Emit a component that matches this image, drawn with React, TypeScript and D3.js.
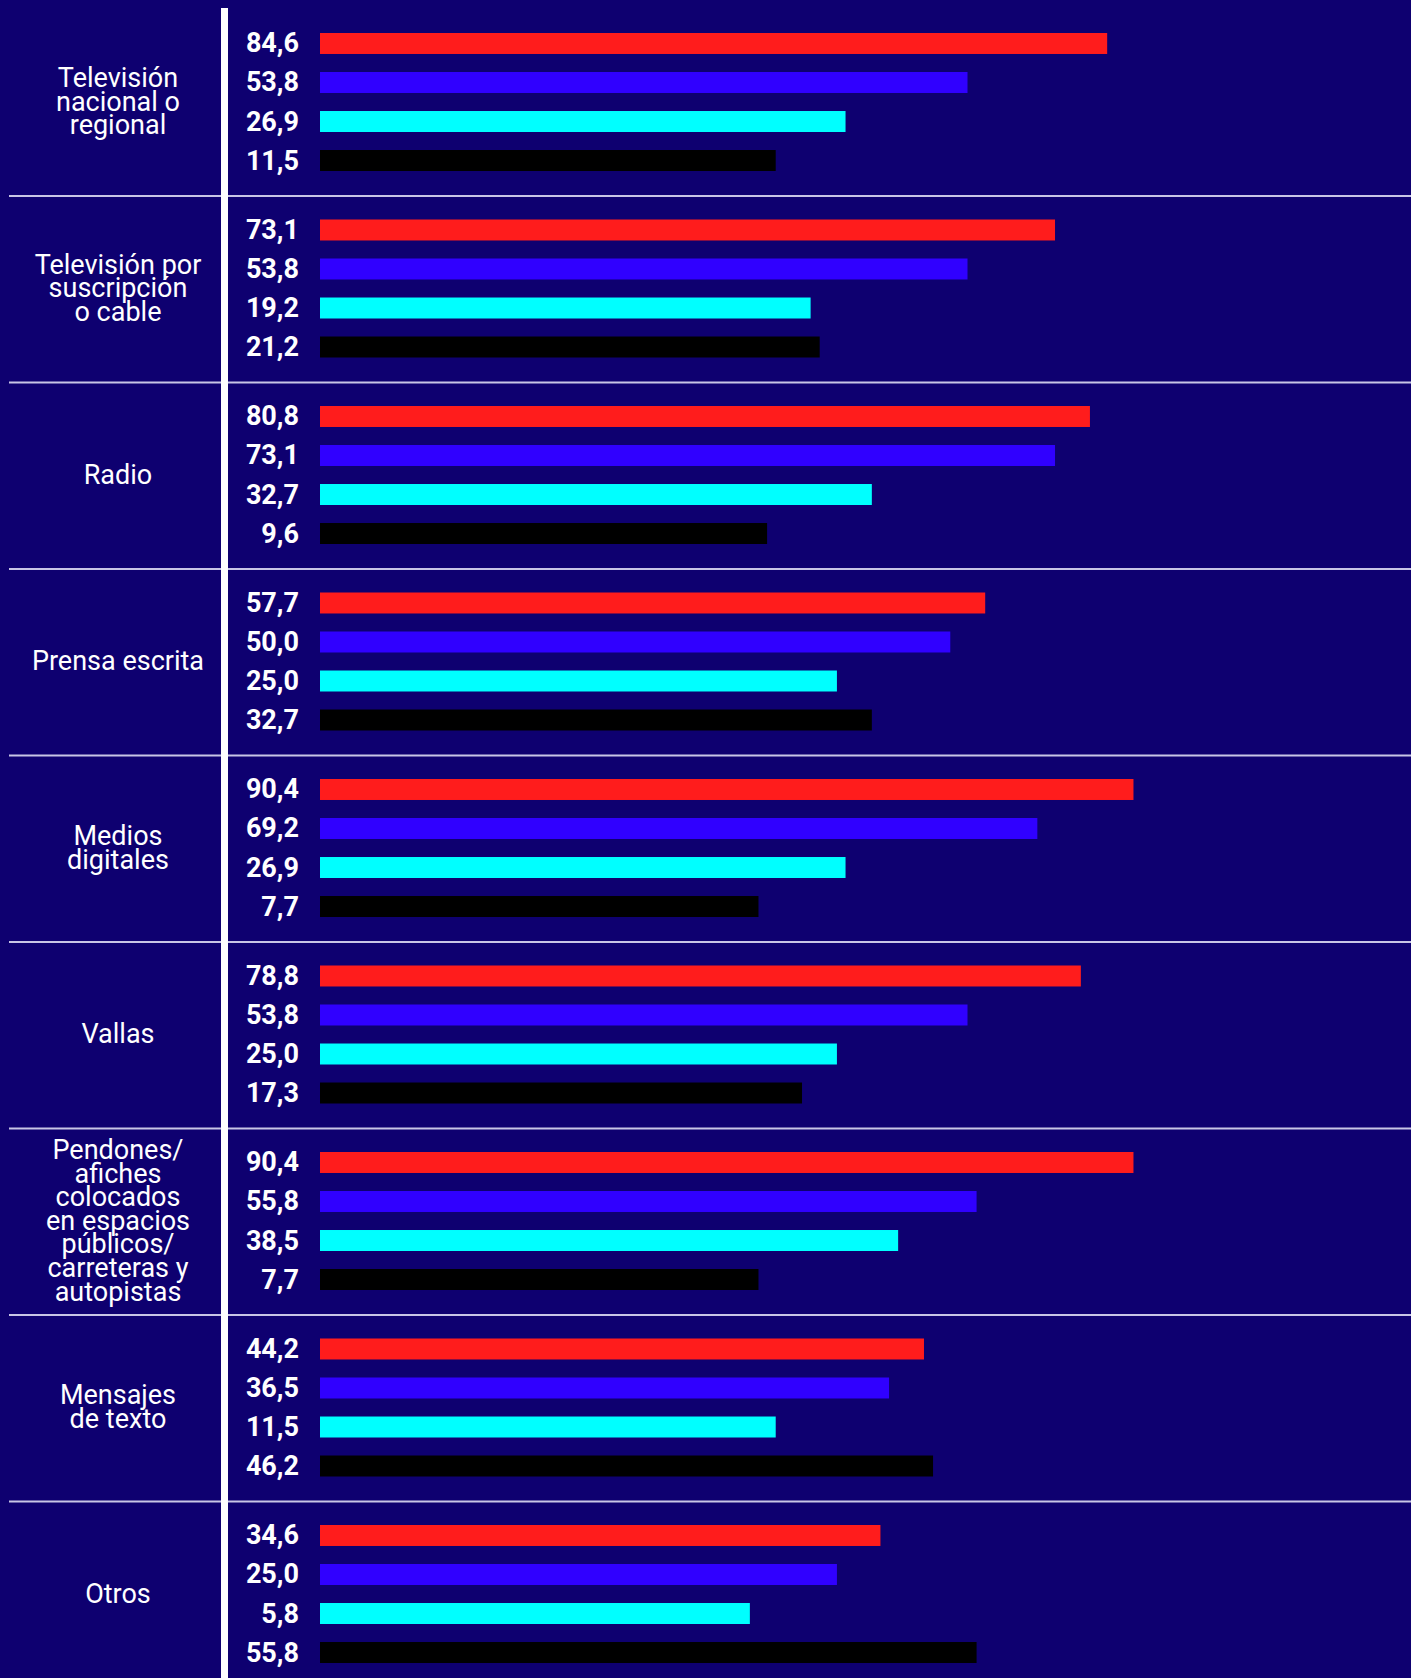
import React, { useEffect, useRef } from 'react';
import * as d3 from 'd3';

const categories = [
  'Televisión nacional o regional',
  'Televisión por suscripción o cable',
  'Radio',
  'Prensa escrita',
  'Medios digitales',
  'Vallas',
  'Pendones/afiches colocados en espacios públicos/carreteras y autopistas',
  'Mensajes de texto',
  'Otros',
];

// label lines as they appear in the picture
const categoryLines = [
  ['Televisión', 'nacional o', 'regional'],
  ['Televisión por', 'suscripción', 'o cable'],
  ['Radio'],
  ['Prensa escrita'],
  ['Medios', 'digitales'],
  ['Vallas'],
  ['Pendones/', 'afiches', 'colocados', 'en espacios', 'públicos/', 'carreteras y', 'autopistas'],
  ['Mensajes', 'de texto'],
  ['Otros'],
];

const seriesKeys = ['rojo', 'azul', 'cian', 'negro'];
const seriesColors = ['#ff1c1c', '#3000ff', '#00ffff', '#000000'];

const rojo = [84.6, 73.1, 80.8, 57.7, 90.4, 78.8, 90.4, 44.2, 34.6];
const azul = [53.8, 53.8, 73.1, 50.0, 69.2, 53.8, 55.8, 36.5, 25.0];
const cian = [26.9, 19.2, 32.7, 25.0, 26.9, 25.0, 38.5, 11.5, 5.8];
const negro = [11.5, 21.2, 9.6, 32.7, 7.7, 17.3, 7.7, 46.2, 55.8];

const seriesValues = [rojo, azul, cian, negro];

const fmt = (v: number) => v.toFixed(1).replace('.', ',');

const App: React.FC = () => {
  const svgRef = useRef<SVGSVGElement>(null);
  const width = 1411;
  const height = 1678;

  useEffect(() => {
    if (!svgRef.current) return;
    const root = d3.select(svgRef.current);
    root.selectAll('*').remove();

    root.attr('width', width).attr('height', height);

    root
      .append('rect')
      .attr('width', width)
      .attr('height', height)
      .attr('fill', '#0e0070');

    const groupStep = 186.5;
    const yGroup = d3
      .scaleBand<string>()
      .domain(categories)
      .range([9.5, 9.5 + groupStep * categories.length])
      .padding(0);

    const yInner = d3
      .scaleBand<string>()
      .domain(seriesKeys)
      .range([23.5, 161.5])
      .paddingInner(0.462)
      .paddingOuter(0);

    // bars do not start at zero in the original, the axis is offset
    const xScale = d3.scaleLinear().domain([-89, 100]).range([320, 1177]);
    const barStart = xScale.range()[0];

    // separators
    root
      .selectAll('.sep')
      .data(categories.slice(1))
      .enter()
      .append('line')
      .attr('class', 'sep')
      .attr('x1', 9)
      .attr('x2', width)
      .attr('y1', (d) => yGroup(d) as number)
      .attr('y2', (d) => yGroup(d) as number)
      .attr('stroke', '#c8c5e6')
      .attr('stroke-width', 2);

    // vertical axis line
    root
      .append('rect')
      .attr('x', 221)
      .attr('y', 8)
      .attr('width', 7)
      .attr('height', height - 8)
      .attr('fill', '#ffffff');

    const groups = root
      .selectAll('.grp')
      .data(categories)
      .enter()
      .append('g')
      .attr('class', 'grp')
      .attr('transform', (d) => `translate(0,${yGroup(d)})`);

    // category labels
    const lh = 23.6;
    groups.each(function (_d, i) {
      const lines = categoryLines[i];
      const cy = yGroup.bandwidth() / 2;
      const t = d3
        .select(this)
        .append('text')
        .attr('text-anchor', 'middle')
        .attr('fill', '#ffffff')
        .attr('font-family', 'Roboto, sans-serif')
        .attr('font-size', 27);
      lines.forEach((ln, k) => {
        t.append('tspan')
          .attr('x', 118)
          .attr('y', cy + (k - (lines.length - 1) / 2) * lh + 8)
          .text(ln);
      });
    });

    // bars and values
    seriesKeys.forEach((key, s) => {
      groups
        .append('rect')
        .attr('x', barStart)
        .attr('y', yInner(key) as number)
        .attr('width', (_d, i) => xScale(seriesValues[s][i]) - barStart)
        .attr('height', yInner.bandwidth())
        .attr('fill', seriesColors[s]);

      groups
        .append('text')
        .attr('x', 299)
        .attr('y', (yInner(key) as number) + yInner.bandwidth() / 2 + 9)
        .attr('text-anchor', 'end')
        .attr('fill', '#ffffff')
        .attr('font-family', 'Roboto, sans-serif')
        .attr('font-weight', 700)
        .attr('font-size', 27)
        .text((_d, i) => fmt(seriesValues[s][i]));
    });
  }, []);

  return (
    <svg
      ref={svgRef}
      style={{ position: 'absolute', left: 0, top: 0, display: 'block' }}
    />
  );
};

export default App;
